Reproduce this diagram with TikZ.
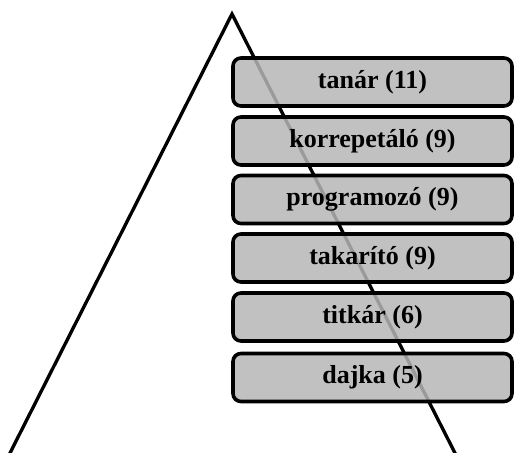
\documentclass[tikz,border=0pt]{standalone}
\usepackage{fontspec}
\setmainfont{Liberation Serif}
\begin{document}
\begin{tikzpicture}[x=0.75pt,y=-0.75pt,
  leg/.style={line width=2.5pt,black},
  level/.style={draw=black,line width=2.7pt,rounded corners=6pt,fill=gray!50!white!85!gray,fill opacity=0.85,text opacity=1,minimum width=279*0.75pt,minimum height=48*0.75pt,inner sep=0pt,font=\bfseries\fontsize{19.5}{22}\selectfont}]
\useasboundingbox (0,0) rectangle (518,453);
\begin{scope}
\clip (0,0) rectangle (518,453);
\coordinate (apex) at (232,14);
\coordinate (bl) at (9,455);
\coordinate (br) at (456,455);
\draw[leg] (bl) -- (apex) -- (br);
\end{scope}
\node[level] (n1) at (372.5,82) {tanár (11)};
\node[level] (n2) at (372.5,141) {korrepetáló (9)};
\node[level] (n3) at (372.5,199.5) {programozó (9)};
\node[level] (n4) at (372.5,258) {takarító (9)};
\node[level] (n5) at (372.5,317) {titkár (6)};
\node[level] (n6) at (372.5,377.5) {dajka (5)};
\end{tikzpicture}
\end{document}
